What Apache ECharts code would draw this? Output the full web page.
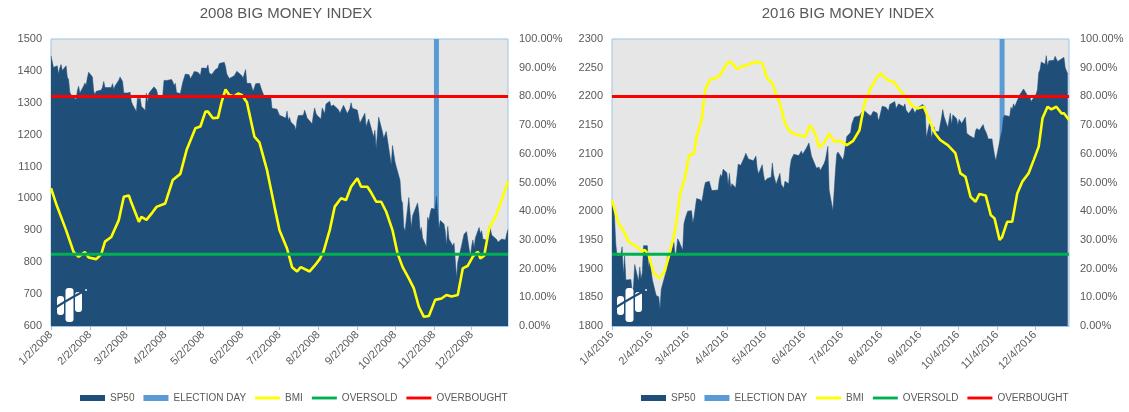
<!DOCTYPE html>
<html><head><meta charset="utf-8">
<script src="https://cdn.jsdelivr.net/npm/echarts@6/dist/echarts.min.js"></script>
<style>html,body{margin:0;padding:0;background:#fff}#c{width:1129px;height:412px}</style>
</head><body><div id="c"></div>
<script>
const titles = ['2008 BIG MONEY INDEX', '2016 BIG MONEY INDEX'];
const tickLabels2008 = ['1/2/2008','2/2/2008','3/2/2008','4/2/2008','5/2/2008','6/2/2008','7/2/2008','8/2/2008','9/2/2008','10/2/2008','11/2/2008','12/2/2008'];
const tickLabels2016 = ['1/4/2016','2/4/2016','3/4/2016','4/4/2016','5/4/2016','6/4/2016','7/4/2016','8/4/2016','9/4/2016','10/4/2016','11/4/2016','12/4/2016'];
const range2008 = ['2008-01-02', '2008-12-31'];
const range2016 = ['2016-01-04', '2016-12-31'];
const spAxis2008 = { min: 600, max: 1500, interval: 100 };
const spAxis2016 = { min: 1800, max: 2300, interval: 50 };
const election2008 = '2008-11-04';
const election2016 = '2016-11-08';
const electionValue = 1;
const oversold = 0.25;
const overbought = 0.80;
const legendNames = ['SP50', 'ELECTION DAY', 'BMI', 'OVERSOLD', 'OVERBOUGHT'];

const sp2008 = [
['2008-01-02',1447],['2008-01-03',1447],['2008-01-04',1411],['2008-01-07',1416],['2008-01-08',1390],['2008-01-09',1409],['2008-01-10',1420],['2008-01-11',1401],['2008-01-14',1416],['2008-01-15',1380],['2008-01-16',1373],['2008-01-17',1333],['2008-01-18',1325],['2008-01-22',1310],['2008-01-23',1338],['2008-01-24',1352],['2008-01-25',1331],['2008-01-28',1353],['2008-01-29',1362],['2008-01-30',1355],['2008-01-31',1379],
['2008-02-01',1396],['2008-02-04',1381],['2008-02-05',1337],['2008-02-06',1326],['2008-02-07',1336],['2008-02-08',1331],['2008-02-11',1340],['2008-02-12',1349],['2008-02-13',1367],['2008-02-14',1348],['2008-02-15',1349],['2008-02-19',1348],['2008-02-20',1360],['2008-02-21',1342],['2008-02-22',1353],['2008-02-25',1371],['2008-02-26',1381],['2008-02-27',1380],['2008-02-28',1367],['2008-02-29',1331],
['2008-03-03',1331],['2008-03-04',1327],['2008-03-05',1333],['2008-03-06',1304],['2008-03-07',1294],['2008-03-10',1273],['2008-03-11',1321],['2008-03-12',1309],['2008-03-13',1316],['2008-03-14',1289],['2008-03-17',1276],['2008-03-18',1330],['2008-03-19',1299],['2008-03-20',1330],['2008-03-24',1350],['2008-03-25',1353],['2008-03-26',1341],['2008-03-27',1325],['2008-03-28',1316],['2008-03-31',1323],
['2008-04-01',1370],['2008-04-02',1368],['2008-04-03',1370],['2008-04-04',1370],['2008-04-07',1373],['2008-04-08',1366],['2008-04-09',1354],['2008-04-10',1361],['2008-04-11',1332],['2008-04-14',1329],['2008-04-15',1334],['2008-04-16',1365],['2008-04-17',1366],['2008-04-18',1390],['2008-04-21',1388],['2008-04-22',1375],['2008-04-23',1380],['2008-04-24',1389],['2008-04-25',1398],['2008-04-28',1396],['2008-04-29',1391],['2008-04-30',1386],
['2008-05-01',1409],['2008-05-02',1414],['2008-05-05',1408],['2008-05-06',1419],['2008-05-07',1393],['2008-05-08',1398],['2008-05-09',1389],['2008-05-12',1404],['2008-05-13',1403],['2008-05-14',1409],['2008-05-15',1423],['2008-05-16',1425],['2008-05-19',1427],['2008-05-20',1414],['2008-05-21',1390],['2008-05-22',1394],['2008-05-23',1376],['2008-05-27',1385],['2008-05-28',1390],['2008-05-29',1399],['2008-05-30',1400],
['2008-06-02',1385],['2008-06-03',1378],['2008-06-04',1377],['2008-06-05',1404],['2008-06-06',1361],['2008-06-09',1361],['2008-06-10',1358],['2008-06-11',1336],['2008-06-12',1339],['2008-06-13',1360],['2008-06-16',1361],['2008-06-17',1350],['2008-06-18',1338],['2008-06-19',1342],['2008-06-20',1318],['2008-06-23',1318],['2008-06-24',1315],['2008-06-25',1322],['2008-06-26',1283],['2008-06-27',1278],['2008-06-30',1280],
['2008-07-01',1285],['2008-07-02',1261],['2008-07-03',1262],['2008-07-07',1252],['2008-07-08',1274],['2008-07-09',1245],['2008-07-10',1254],['2008-07-11',1240],['2008-07-14',1228],['2008-07-15',1214],['2008-07-16',1245],['2008-07-17',1260],['2008-07-18',1261],['2008-07-21',1261],['2008-07-22',1277],['2008-07-23',1283],['2008-07-24',1252],['2008-07-25',1257],['2008-07-28',1234],['2008-07-29',1263],['2008-07-30',1284],['2008-07-31',1267],
['2008-08-01',1260],['2008-08-04',1249],['2008-08-05',1284],['2008-08-06',1289],['2008-08-07',1266],['2008-08-08',1296],['2008-08-11',1305],['2008-08-12',1289],['2008-08-13',1285],['2008-08-14',1293],['2008-08-15',1298],['2008-08-18',1278],['2008-08-19',1267],['2008-08-20',1275],['2008-08-21',1277],['2008-08-22',1292],['2008-08-25',1266],['2008-08-26',1272],['2008-08-27',1281],['2008-08-28',1300],['2008-08-29',1283],
['2008-09-02',1277],['2008-09-03',1275],['2008-09-04',1236],['2008-09-05',1242],['2008-09-08',1267],['2008-09-09',1225],['2008-09-10',1231],['2008-09-11',1249],['2008-09-12',1252],['2008-09-15',1193],['2008-09-16',1214],['2008-09-17',1156],['2008-09-18',1206],['2008-09-19',1255],['2008-09-22',1208],['2008-09-23',1189],['2008-09-24',1186],['2008-09-25',1210],['2008-09-26',1213],['2008-09-29',1106],['2008-09-30',1166],
['2008-10-01',1161],['2008-10-02',1115],['2008-10-03',1099],['2008-10-06',1057],['2008-10-07',996],['2008-10-08',985],['2008-10-09',910],['2008-10-10',899],['2008-10-13',1003],['2008-10-14',998],['2008-10-15',908],['2008-10-16',946],['2008-10-17',941],['2008-10-20',986],['2008-10-21',955],['2008-10-22',897],['2008-10-23',909],['2008-10-24',876],['2008-10-27',848],['2008-10-28',941],['2008-10-29',930],['2008-10-30',954],['2008-10-31',969],
['2008-11-03',966],['2008-11-04',1006],['2008-11-05',953],['2008-11-06',905],['2008-11-07',931],['2008-11-10',920],['2008-11-11',898],['2008-11-12',853],['2008-11-13',912],['2008-11-14',873],['2008-11-17',851],['2008-11-18',860],['2008-11-19',807],['2008-11-20',752],['2008-11-21',800],['2008-11-24',852],['2008-11-25',857],['2008-11-26',888],['2008-11-28',896],
['2008-12-01',816],['2008-12-02',849],['2008-12-03',870],['2008-12-04',846],['2008-12-05',876],['2008-12-08',909],['2008-12-09',889],['2008-12-10',899],['2008-12-11',873],['2008-12-12',879],['2008-12-15',868],['2008-12-16',913],['2008-12-17',904],['2008-12-18',885],['2008-12-19',888],['2008-12-22',871],['2008-12-23',863],['2008-12-24',869],['2008-12-26',873],['2008-12-29',870],['2008-12-30',890],['2008-12-31',903]
];

const bmi2008 = [
['2008-01-02',0.48],['2008-01-06',0.427],['2008-01-14',0.334],['2008-01-20',0.258],['2008-01-24',0.241],['2008-01-29',0.258],['2008-02-01',0.239],['2008-02-07',0.233],['2008-02-11',0.25],['2008-02-14',0.294],['2008-02-19',0.31],['2008-02-25',0.369],['2008-02-29',0.45],['2008-03-04',0.455],['2008-03-06',0.43],['2008-03-12',0.363],['2008-03-14',0.38],['2008-03-18',0.37],['2008-03-23',0.397],['2008-03-26',0.415],['2008-04-02',0.427],['2008-04-08',0.509],['2008-04-14',0.53],['2008-04-19',0.613],['2008-04-26',0.689],['2008-04-30',0.695],['2008-05-04',0.747],['2008-05-06',0.747],['2008-05-10',0.724],['2008-05-14',0.726],['2008-05-17',0.782],['2008-05-20',0.824],['2008-05-23',0.805],['2008-05-27',0.80],['2008-05-30',0.81],['2008-06-02',0.805],['2008-06-06',0.78],['2008-06-12',0.66],['2008-06-16',0.64],['2008-06-22',0.544],['2008-06-28',0.416],['2008-07-02',0.334],['2008-07-08',0.27],['2008-07-12',0.205],['2008-07-16',0.19],['2008-07-19',0.205],['2008-07-26',0.19],['2008-07-30',0.21],['2008-08-03',0.233],['2008-08-06',0.258],['2008-08-11',0.334],['2008-08-15',0.416],['2008-08-20',0.445],['2008-08-24',0.439],['2008-08-28',0.485],['2008-09-02',0.515],['2008-09-05',0.485],['2008-09-10',0.485],['2008-09-13',0.465],['2008-09-17',0.433],['2008-09-21',0.433],['2008-09-25',0.398],['2008-09-30',0.334],['2008-10-04',0.253],['2008-10-08',0.206],['2008-10-13',0.166],['2008-10-17',0.131],['2008-10-21',0.067],['2008-10-25',0.032],['2008-10-29',0.035],['2008-11-03',0.091],['2008-11-08',0.096],['2008-11-12',0.108],['2008-11-16',0.103],['2008-11-21',0.108],['2008-11-25',0.201],['2008-11-29',0.21],['2008-12-03',0.242],['2008-12-07',0.259],['2008-12-09',0.235],['2008-12-12',0.245],['2008-12-16',0.34],['2008-12-21',0.381],['2008-12-26',0.44],['2008-12-31',0.503]
];

const sp2016 = [
['2016-01-04',2012],['2016-01-05',2016],['2016-01-06',1990],['2016-01-07',1943],['2016-01-08',1922],['2016-01-11',1923],['2016-01-12',1938],['2016-01-13',1890],['2016-01-14',1922],['2016-01-15',1880],['2016-01-19',1881],['2016-01-20',1859],['2016-01-21',1868],['2016-01-22',1907],['2016-01-25',1878],['2016-01-26',1903],['2016-01-27',1882],['2016-01-28',1893],['2016-01-29',1940],
['2016-02-01',1940],['2016-02-02',1903],['2016-02-03',1912],['2016-02-04',1915],['2016-02-05',1880],['2016-02-08',1853],['2016-02-09',1852],['2016-02-10',1851],['2016-02-11',1829],['2016-02-12',1864],['2016-02-16',1896],['2016-02-17',1927],['2016-02-18',1917],['2016-02-19',1918],['2016-02-22',1946],['2016-02-23',1922],['2016-02-24',1930],['2016-02-25',1952],['2016-02-26',1948],['2016-02-29',1932],
['2016-03-01',1978],['2016-03-02',1987],['2016-03-03',1994],['2016-03-04',2000],['2016-03-07',2001],['2016-03-08',1980],['2016-03-09',1990],['2016-03-10',1989],['2016-03-11',2022],['2016-03-14',2020],['2016-03-15',2016],['2016-03-16',2027],['2016-03-17',2041],['2016-03-18',2050],['2016-03-21',2052],['2016-03-22',2049],['2016-03-23',2036],['2016-03-24',2036],['2016-03-28',2037],['2016-03-29',2055],['2016-03-30',2064],['2016-03-31',2060],
['2016-04-01',2073],['2016-04-04',2067],['2016-04-05',2045],['2016-04-06',2066],['2016-04-07',2041],['2016-04-08',2048],['2016-04-11',2041],['2016-04-12',2062],['2016-04-13',2082],['2016-04-14',2082],['2016-04-15',2080],['2016-04-18',2095],['2016-04-19',2101],['2016-04-20',2102],['2016-04-21',2091],['2016-04-22',2092],['2016-04-25',2088],['2016-04-26',2091],['2016-04-27',2096],['2016-04-28',2075],['2016-04-29',2065],
['2016-05-02',2081],['2016-05-03',2064],['2016-05-04',2052],['2016-05-05',2051],['2016-05-06',2057],['2016-05-09',2059],['2016-05-10',2084],['2016-05-11',2064],['2016-05-12',2064],['2016-05-13',2047],['2016-05-16',2066],['2016-05-17',2047],['2016-05-18',2047],['2016-05-19',2040],['2016-05-20',2052],['2016-05-23',2048],['2016-05-24',2076],['2016-05-25',2090],['2016-05-26',2090],['2016-05-27',2099],['2016-05-31',2097],
['2016-06-01',2099],['2016-06-02',2105],['2016-06-03',2099],['2016-06-06',2110],['2016-06-07',2112],['2016-06-08',2119],['2016-06-09',2116],['2016-06-10',2096],['2016-06-13',2080],['2016-06-14',2075],['2016-06-15',2072],['2016-06-16',2077],['2016-06-17',2071],['2016-06-20',2083],['2016-06-21',2089],['2016-06-22',2086],['2016-06-23',2113],['2016-06-24',2037],['2016-06-27',2001],['2016-06-28',2036],['2016-06-29',2071],['2016-06-30',2099],
['2016-07-01',2103],['2016-07-05',2089],['2016-07-06',2100],['2016-07-07',2098],['2016-07-08',2130],['2016-07-11',2137],['2016-07-12',2152],['2016-07-13',2152],['2016-07-14',2164],['2016-07-15',2162],['2016-07-18',2166],['2016-07-19',2164],['2016-07-20',2173],['2016-07-21',2165],['2016-07-22',2175],['2016-07-25',2169],['2016-07-26',2169],['2016-07-27',2166],['2016-07-28',2170],['2016-07-29',2174],
['2016-08-01',2171],['2016-08-02',2157],['2016-08-03',2164],['2016-08-04',2164],['2016-08-05',2183],['2016-08-08',2181],['2016-08-09',2182],['2016-08-10',2175],['2016-08-11',2186],['2016-08-12',2184],['2016-08-15',2191],['2016-08-16',2179],['2016-08-17',2182],['2016-08-18',2187],['2016-08-19',2184],['2016-08-22',2182],['2016-08-23',2187],['2016-08-24',2176],['2016-08-25',2173],['2016-08-26',2170],['2016-08-29',2180],['2016-08-30',2176],['2016-08-31',2171],
['2016-09-01',2171],['2016-09-02',2180],['2016-09-06',2186],['2016-09-07',2186],['2016-09-08',2182],['2016-09-09',2128],['2016-09-12',2159],['2016-09-13',2127],['2016-09-14',2126],['2016-09-15',2147],['2016-09-16',2139],['2016-09-19',2139],['2016-09-20',2140],['2016-09-21',2163],['2016-09-22',2177],['2016-09-23',2165],['2016-09-26',2146],['2016-09-27',2159],['2016-09-28',2171],['2016-09-29',2151],['2016-09-30',2168],
['2016-10-03',2161],['2016-10-04',2150],['2016-10-05',2160],['2016-10-06',2161],['2016-10-07',2153],['2016-10-10',2164],['2016-10-11',2136],['2016-10-12',2139],['2016-10-13',2132],['2016-10-14',2133],['2016-10-17',2127],['2016-10-18',2140],['2016-10-19',2144],['2016-10-20',2141],['2016-10-21',2141],['2016-10-24',2151],['2016-10-25',2143],['2016-10-26',2139],['2016-10-27',2133],['2016-10-28',2126],['2016-10-31',2126],
['2016-11-01',2111],['2016-11-02',2098],['2016-11-03',2088],['2016-11-04',2085],['2016-11-07',2132],['2016-11-08',2140],['2016-11-09',2163],['2016-11-10',2167],['2016-11-11',2164],['2016-11-14',2165],['2016-11-15',2181],['2016-11-16',2177],['2016-11-17',2187],['2016-11-18',2182],['2016-11-21',2198],['2016-11-22',2203],['2016-11-23',2204],['2016-11-25',2213],['2016-11-28',2202],['2016-11-29',2205],['2016-11-30',2199],
['2016-12-01',2191],['2016-12-02',2192],['2016-12-05',2204],['2016-12-06',2212],['2016-12-07',2241],['2016-12-08',2246],['2016-12-09',2260],['2016-12-12',2256],['2016-12-13',2271],['2016-12-14',2253],['2016-12-15',2262],['2016-12-16',2259],['2016-12-19',2263],['2016-12-20',2270],['2016-12-21',2265],['2016-12-22',2261],['2016-12-23',2264],['2016-12-27',2268],['2016-12-28',2250],['2016-12-29',2249],['2016-12-30',2239]
];

const bmi2016 = [
['2016-01-04',0.439],['2016-01-09',0.358],['2016-01-13',0.334],['2016-01-17',0.294],['2016-01-24',0.276],['2016-01-28',0.259],['2016-01-30',0.265],['2016-02-02',0.248],['2016-02-06',0.184],['2016-02-11',0.166],['2016-02-15',0.195],['2016-02-19',0.259],['2016-02-23',0.334],['2016-02-27',0.462],['2016-03-02',0.52],['2016-03-05',0.596],['2016-03-09',0.60],['2016-03-11',0.66],['2016-03-15',0.718],['2016-03-18',0.828],['2016-03-22',0.86],['2016-03-27',0.865],['2016-03-30',0.877],['2016-04-04',0.915],['2016-04-07',0.921],['2016-04-12',0.895],['2016-04-16',0.905],['2016-04-20',0.909],['2016-04-23',0.915],['2016-04-27',0.921],['2016-05-02',0.915],['2016-05-06',0.863],['2016-05-10',0.846],['2016-05-14',0.794],['2016-05-16',0.776],['2016-05-20',0.706],['2016-05-24',0.677],['2016-05-30',0.666],['2016-06-05',0.66],['2016-06-09',0.70],['2016-06-13',0.67],['2016-06-16',0.623],['2016-06-20',0.638],['2016-06-24',0.67],['2016-06-28',0.643],['2016-07-03',0.645],['2016-07-08',0.63],['2016-07-13',0.645],['2016-07-18',0.682],['2016-07-22',0.775],['2016-07-27',0.83],['2016-08-01',0.868],['2016-08-04',0.88],['2016-08-09',0.857],['2016-08-14',0.851],['2016-08-20',0.816],['2016-08-25',0.792],['2016-08-28',0.77],['2016-09-02',0.758],['2016-09-07',0.764],['2016-09-08',0.769],['2016-09-12',0.71],['2016-09-16',0.671],['2016-09-20',0.648],['2016-09-26',0.63],['2016-10-02',0.602],['2016-10-06',0.532],['2016-10-10',0.52],['2016-10-14',0.45],['2016-10-18',0.433],['2016-10-21',0.46],['2016-10-26',0.455],['2016-10-30',0.387],['2016-11-02',0.375],['2016-11-06',0.30],['2016-11-08',0.31],['2016-11-12',0.363],['2016-11-16',0.363],['2016-11-20',0.462],['2016-11-24',0.503],['2016-11-29',0.532],['2016-12-03',0.578],['2016-12-07',0.625],['2016-12-10',0.724],['2016-12-14',0.764],['2016-12-17',0.755],['2016-12-21',0.764],['2016-12-25',0.741],['2016-12-27',0.741],['2016-12-31',0.718]
];

// ---- helpers ----
function isoTs(s) { const [y, m, d] = s.split('-').map(Number); return Date.UTC(y, m - 1, d); }
function labelTs(s) { const [m, d, y] = s.split('/').map(Number); return Date.UTC(y, m - 1, d); }
function conv(arr) { return arr.map(p => [isoTs(p[0]), p[1]]); }

const C = {
  area: '#1F4E79', election: '#5B9BD5', bmi: '#FFFF00', oversold: '#00B050', overbought: '#FF0000',
  plotBg: '#E7E6E6', border: '#9DC3E6', text: '#595959'
};
const FONT = '"Liberation Sans", Arial, sans-serif';
const LINE_ICON = 'path://M0,0H26V3H0Z';

const panels = [
  { title: titles[0], ticks: tickLabels2008, range: range2008, sp: sp2008, bmi: bmi2008, election: election2008, ax: spAxis2008, gridLeft: 51, gridRight: 621, titleX: 286, legendLeft: 75, logoDx: 0 },
  { title: titles[1], ticks: tickLabels2016, range: range2016, sp: sp2016, bmi: bmi2016, election: election2016, ax: spAxis2016, gridLeft: 612, gridRight: 60, titleX: 848, legendLeft: 636, logoDx: 560 }
];

const option = { animation: false, grid: [], xAxis: [], yAxis: [], series: [], legend: [], graphic: [] };

panels.forEach((p, i) => {
  option.grid.push({ left: p.gridLeft, right: p.gridRight, top: 39, bottom: 86, show: true, backgroundColor: C.plotBg, borderColor: C.border, borderWidth: 1 });
  const tickVals = p.ticks.map(labelTs);
  option.xAxis.push({
    type: 'value', gridIndex: i, min: isoTs(p.range[0]), max: isoTs(p.range[1]),
    splitLine: { show: false },
    axisLine: { show: true, lineStyle: { color: C.border } },
    axisTick: { show: true, customValues: tickVals, length: 4, lineStyle: { color: '#A9BCD3' } },
    axisLabel: {
      customValues: tickVals, rotate: 45, margin: 7, color: C.text, fontSize: 11, fontFamily: FONT,
      formatter: v => { const k = tickVals.indexOf(v); return k >= 0 ? p.ticks[k] : ''; }
    }
  });
  option.yAxis.push({
    type: 'value', gridIndex: i, position: 'left', min: p.ax.min, max: p.ax.max, interval: p.ax.interval,
    splitLine: { show: false }, axisLine: { show: false }, axisTick: { show: false },
    axisLabel: { color: C.text, fontSize: 11, fontFamily: FONT, margin: 9, formatter: v => String(v) }
  });
  option.yAxis.push({
    type: 'value', gridIndex: i, position: 'right', min: 0, max: 1, interval: 0.1,
    splitLine: { show: false }, axisLine: { show: false }, axisTick: { show: false },
    axisLabel: { color: C.text, fontSize: 11, fontFamily: FONT, margin: 11, formatter: v => (v * 100).toFixed(2) + '%' }
  });
  const yPrim = i * 2, ySec = i * 2 + 1;
  const x0 = isoTs(p.range[0]), x1 = isoTs(p.range[1]);
  option.series.push(
    { name: legendNames[0], type: 'line', xAxisIndex: i, yAxisIndex: yPrim, data: conv(p.sp), symbol: 'none', color: C.area,
      lineStyle: { width: 0.5, color: C.area }, areaStyle: { color: C.area, opacity: 1, origin: 'start' } },
    { name: legendNames[1], type: 'bar', xAxisIndex: i, yAxisIndex: ySec, data: [[isoTs(p.election), electionValue]], barWidth: 5, color: C.election, itemStyle: { color: C.election } },
    { name: legendNames[2], type: 'line', xAxisIndex: i, yAxisIndex: ySec, data: conv(p.bmi), symbol: 'none', showSymbol: false, color: C.bmi, lineStyle: { width: 2.6, color: C.bmi } },
    { name: legendNames[3], type: 'line', xAxisIndex: i, yAxisIndex: ySec, data: [[x0, oversold], [x1, oversold]], symbol: 'none', showSymbol: false, color: C.oversold, lineStyle: { width: 3, color: C.oversold } },
    { name: legendNames[4], type: 'line', xAxisIndex: i, yAxisIndex: ySec, data: [[x0, overbought], [x1, overbought]], symbol: 'none', showSymbol: false, color: C.overbought, lineStyle: { width: 3, color: C.overbought } }
  );
  option.legend.push({
    left: p.legendLeft, top: 388, itemWidth: 25, itemHeight: 6, itemGap: 9,
    textStyle: { color: C.text, fontSize: 10, fontFamily: FONT },
    data: [
      { name: legendNames[0], icon: 'rect' },
      { name: legendNames[1], icon: 'rect' },
      { name: legendNames[2], icon: LINE_ICON },
      { name: legendNames[3], icon: LINE_ICON },
      { name: legendNames[4], icon: LINE_ICON }
    ]
  });
  option.graphic.push({
    type: 'text', x: p.titleX, y: 14,
    style: { text: p.title, fill: C.text, font: '15px ' + FONT, textAlign: 'center', textVerticalAlign: 'middle' }
  });
  const dx = p.logoDx;
  option.graphic.push(
    { type: 'rect', shape: { x: 57 + dx, y: 296, width: 7, height: 19, r: 3 }, style: { fill: '#fff' }, z: 100 },
    { type: 'rect', shape: { x: 65.5 + dx, y: 288, width: 8, height: 34, r: 3 }, style: { fill: '#fff' }, z: 100 },
    { type: 'rect', shape: { x: 75 + dx, y: 292, width: 7, height: 20, r: 3 }, style: { fill: '#fff' }, z: 100 },
    { type: 'bezierCurve', shape: { x1: 55 + dx, y1: 308, x2: 84 + dx, y2: 291, cpx1: 65 + dx, cpy1: 301, cpx2: 75 + dx, cpy2: 296 }, style: { stroke: C.area, lineWidth: 2.2, fill: null }, z: 101 },
    { type: 'circle', shape: { cx: 86 + dx, cy: 290, r: 0.9 }, style: { fill: '#fff' }, z: 101 }
  );
});

const chart = echarts.init(document.getElementById('c'), null, { renderer: 'canvas' });
chart.setOption(option);
</script>
</body></html>
